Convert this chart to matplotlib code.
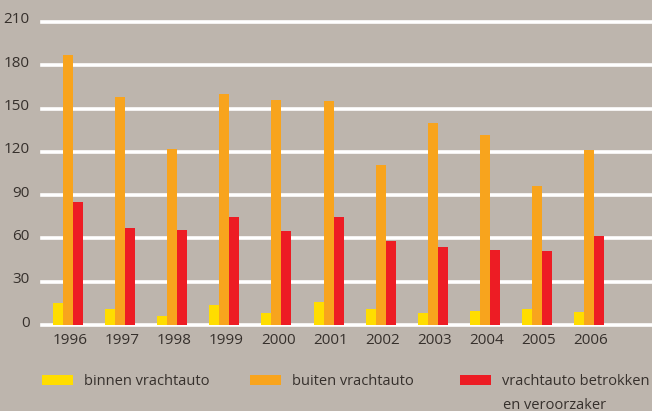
import matplotlib
matplotlib.use("Agg")
import numpy as np
import matplotlib.pyplot as plt
import matplotlib.transforms as mtransforms

years = ["1996", "1997", "1998", "1999", "2000", "2001", "2002", "2003", "2004", "2005", "2006"]
binnen = [15, 11, 6, 14, 8, 16, 11, 8, 10, 11, 9]
buiten = [187, 158, 122, 160, 156, 155, 111, 140, 132, 96, 121]
betrokken = [85, 67, 66, 75, 65, 75, 58, 54, 52, 51, 62]

labels = ["binnen vrachtauto", "buiten vrachtauto", "vrachtauto betrokken"]
extra_line = "en veroorzaker"
colors = ["#ffdd00", "#f8a41d", "#ed1c24"]
yticks = [0, 30, 60, 90, 120, 150, 180, 210]

bg = "#bdb5ad"
txt = "#36302c"

plt.rcParams['font.family'] = ['Open Sans', 'DejaVu Sans']

fig = plt.figure(figsize=(6.52, 4.11), dpi=100, facecolor=bg)
ax = fig.add_axes([42 / 652, 1 - 325 / 411, 610 / 652, 303 / 411], facecolor=bg)

x = np.arange(len(years))
w = 0.192
bars = []
for k, (vals, off) in enumerate(zip([binnen, buiten, betrokken], [-w, 0, w])):
    bars.append(ax.bar(x + off, vals, width=w, color=colors[k], zorder=3, label=labels[k]))

ax.set_xlim(-0.5, 11.21)
ax.set_ylim(0, 210)
ax.set_yticks(yticks)
ax.set_xticks(x + 0.04)
ax.set_xticklabels(years)
for y in yticks:
    ax.axhline(y, color="white", lw=2.6, zorder=2, clip_on=False)
for s in ax.spines.values():
    s.set_visible(False)
ax.tick_params(length=0, labelsize=11, labelcolor=txt)
ax.tick_params(axis="y", pad=9)
ax.tick_params(axis="x", pad=6)
shift = mtransforms.ScaledTranslation(0, 4 / 100, fig.dpi_scale_trans)
for lab in ax.get_yticklabels():
    lab.set_transform(lab.get_transform() + shift)

# three separate legend entries
for k, xpos in enumerate([42, 250, 460]):
    leg = fig.legend(handles=[bars[k]], labels=[labels[k]], loc="upper left",
                     bbox_to_anchor=(xpos / 652, 1 - 374 / 411), frameon=False,
                     fontsize=10.5, handlelength=2.1, handleheight=0.75,
                     handletextpad=0.8, borderpad=0, borderaxespad=0, labelcolor=txt)
fig.text(503 / 652, 1 - 405 / 411, extra_line, fontsize=10.5, color=txt, va="center")

fig.savefig("out.png", dpi=100, facecolor=bg)
